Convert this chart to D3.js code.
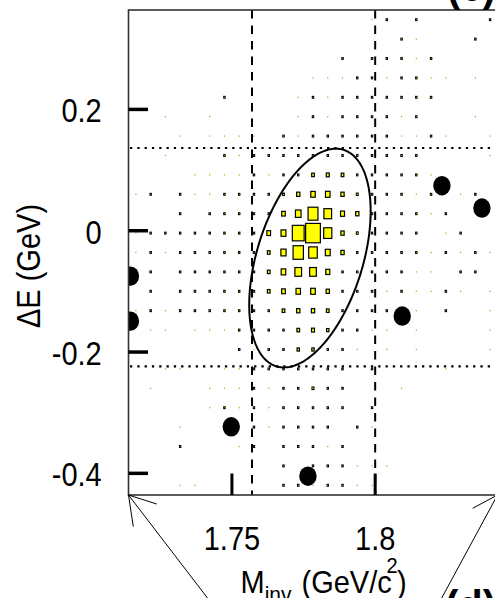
<!DOCTYPE html>
<html lang="en">
<head>
<meta charset="utf-8">
<title>Minv vs dE</title>
<script src="https://cdn.jsdelivr.net/npm/d3@7/dist/d3.min.js"></script>
<style>
    body { margin: 0; background: #fff; }
    svg text { font-family: "Liberation Sans", Arial, Helvetica, sans-serif; fill: #000; }
</style>
</head>
<body>
<div id="chart"></div>
<script>
// axes
var xDomain = [1.7139, 1.8427],     // Minv (GeV/c^2)
    yDomain = [-0.4357, 0.3639],    // dE (GeV)
    xTicks = [1.75, 1.8],
    yTicks = [0.2, 0, -0.2, -0.4],
    xTickLabels = ["1.75", "1.8"],
    yTickLabels = ["0.2", "0", "-0.2", "-0.4"];

// signal region lines
var mCuts = [1.757, 1.800],
    eCuts = [0.1364, -0.2236];

// fitted ellipse: centre, half widths, phase between M and dE
var ellCentre = [1.77723, -0.04507],
    ellHalf = [0.02119, 0.1803],
    ellCorr = 0.428;

// data points (black dots)
var ptM = [1.82330, 1.83726, 1.71457, 1.71457, 1.80944, 1.74976, 1.77653],
    ptE = [0.0742, 0.0374, -0.0748, -0.1490, -0.1407, -0.3233, -0.4047];

// MC box histogram, 25 x 25 bins, first row = highest dE, relative content
var nx = 25, ny = 25;
var boxes = [
    [0,0,0,0,0,0,0,0,0,0,0,0,0,0,0,0,4,10,0,10,0,0,0,0,10],
    [0,0,0,0,0,0,0,0,0,0,0,0,0,0,0,0,0,0,10,4,0,0,0,10,0],
    [0,0,0,0,0,0,0,0,0,0,0,0,0,0,10,0,10,10,10,4,10,0,0,0,0],
    [0,0,0,0,0,0,0,0,0,0,0,0,4,4,4,10,10,4,10,10,4,4,0,4,0],
    [0,0,0,0,0,0,10,0,0,0,0,4,10,4,10,10,10,10,10,10,10,0,0,0,0],
    [0,0,4,0,0,4,0,0,0,0,0,4,10,4,10,10,10,10,4,10,0,0,0,4,0],
    [0,0,0,4,0,4,4,4,4,0,10,4,10,10,10,10,10,10,4,4,10,4,0,0,4],
    [0,0,4,0,0,0,10,4,10,10,10,10,10,10,10,10,10,10,10,10,0,0,0,0,4],
    [0,0,0,0,4,4,4,4,10,4,10,10,18,20,18,10,10,10,10,10,4,0,0,0,0],
    [4,10,0,10,4,4,10,10,10,10,13,22,30,31,22,13,10,10,10,4,10,0,4,10,0],
    [0,0,0,10,0,10,10,10,10,10,24,38,67,52,27,22,10,10,10,10,4,10,0,0,0],
    [4,10,10,10,10,10,10,10,10,25,33,80,100,55,22,13,10,10,10,10,0,4,10,0,0],
    [4,10,4,10,10,10,10,10,10,18,35,70,58,33,22,10,10,10,10,10,4,10,4,10,4],
    [0,10,0,10,10,10,10,10,10,18,31,45,45,27,10,10,10,10,10,4,4,0,10,10,0],
    [0,10,0,10,10,10,10,10,10,18,25,30,31,22,10,10,10,4,10,4,4,10,4,0,4],
    [4,10,4,10,10,10,10,10,10,10,18,22,22,18,10,10,10,10,0,4,0,10,0,0,4],
    [0,4,4,0,4,4,4,10,10,10,10,18,20,16,10,10,4,4,0,4,0,0,0,0,4],
    [0,0,0,0,0,0,0,10,4,10,10,16,16,10,10,4,0,4,0,4,0,0,0,0,4],
    [0,0,4,4,0,0,4,4,10,10,10,10,10,10,10,0,10,0,0,0,0,4,0,0,0],
    [0,4,0,0,0,4,4,4,10,4,10,10,14,10,10,0,0,0,4,0,0,0,0,0,0],
    [0,0,0,0,0,4,10,4,10,4,10,10,10,10,10,0,10,0,0,0,0,0,0,0,0],
    [0,0,0,4,0,0,0,0,10,4,10,10,10,10,0,10,4,0,0,0,0,0,0,0,0],
    [0,0,0,10,0,0,0,4,10,0,10,10,10,4,10,0,0,0,0,0,0,0,0,0,0],
    [0,0,0,0,0,0,0,0,0,0,10,0,10,10,10,4,4,4,0,0,0,0,0,0,0],
    [0,0,0,4,4,0,0,0,0,0,10,10,4,10,10,4,4,0,0,0,0,0,0,0,0]
];

var width = 495, height = 598,
    frame = {left: 128.5, right: 497.5, top: 10, bottom: 495},
    stretch = 1.13;   // text in the figure is a bit taller than wide

var x = d3.scaleLinear().domain(xDomain).range([frame.left, frame.right]),
    y = d3.scaleLinear().domain(yDomain).range([frame.bottom, frame.top]);

var svg = d3.select("#chart").append("svg")
    .attr("width", width)
    .attr("height", height);

svg.append("rect").attr("width", width).attr("height", height).attr("fill", "#fff");

svg.append("clipPath").attr("id", "clip")
  .append("rect")
    .attr("x", frame.left).attr("y", frame.top)
    .attr("width", frame.right - frame.left)
    .attr("height", frame.bottom - frame.top);

var plot = svg.append("g").attr("clip-path", "url(#clip)");

// box histogram
var bw = (xDomain[1] - xDomain[0]) / nx,
    bh = (yDomain[1] - yDomain[0]) / ny,
    pw = x(xDomain[0] + bw) - x(xDomain[0]),
    ph = y(yDomain[0]) - y(yDomain[0] + bh),
    vmax = d3.max(boxes, function(r) { return d3.max(r); });

var cells = [];
boxes.forEach(function(row, i) {
    row.forEach(function(v, j) {
        if (v > 0) cells.push({
            cx: x(xDomain[0] + (j + 0.5) * bw),
            cy: y(yDomain[1] - (i + 0.5) * bh),
            v: v
        });
    });
});

plot.append("g").selectAll("rect")
    .data(cells)
  .enter().append("rect")
    .attr("x", function(d) { return d.v < 6 ? d.cx - 0.6 : d.cx - d.v / vmax * pw / 2; })
    .attr("y", function(d) { return d.v < 6 ? d.cy - 0.6 : d.cy - d.v / vmax * ph / 2; })
    .attr("width", function(d) { return d.v < 6 ? 1.2 : d.v / vmax * pw; })
    .attr("height", function(d) { return d.v < 6 ? 1.2 : d.v / vmax * ph; })
    .attr("fill", function(d) { return d.v < 6 ? "#a8a800" : "#ffff00"; })
    .attr("stroke", function(d) { return d.v < 6 ? "none" : "#000"; })
    .attr("stroke-width", function(d) { return d.v < 15 ? 1 : 1.2; });

// signal region
plot.selectAll(".mcut")
    .data(mCuts)
  .enter().append("line")
    .attr("x1", x).attr("x2", x)
    .attr("y1", frame.top).attr("y2", frame.bottom)
    .attr("stroke", "#000").attr("stroke-width", 2)
    .attr("stroke-dasharray", "8.5,7");

plot.selectAll(".ecut")
    .data(eCuts)
  .enter().append("line")
    .attr("x1", frame.left + 1.5).attr("x2", frame.right)
    .attr("y1", y).attr("y2", y)
    .attr("stroke", "#000").attr("stroke-width", 2.2)
    .attr("stroke-dasharray", "2.3,5");

// ellipse
var ts = d3.range(0, 2 * Math.PI + 0.02, 0.02),
    dphi = Math.acos(ellCorr);
var ellLine = d3.line()
    .x(function(t) { return x(ellCentre[0] + ellHalf[0] * Math.cos(t)); })
    .y(function(t) { return y(ellCentre[1] + ellHalf[1] * Math.cos(t - dphi)); });

plot.append("path")
    .attr("d", ellLine(ts))
    .attr("fill", "none")
    .attr("stroke", "#000")
    .attr("stroke-width", 2);

// data points
plot.selectAll(".pt")
    .data(ptM)
  .enter().append("ellipse")
    .attr("cx", function(d) { return x(d); })
    .attr("cy", function(d, i) { return y(ptE[i]); })
    .attr("rx", 8.7).attr("ry", 9.7)
    .attr("fill", "#000");

// frame and ticks
svg.append("rect")
    .attr("x", frame.left).attr("y", frame.top)
    .attr("width", frame.right - frame.left)
    .attr("height", frame.bottom - frame.top)
    .attr("fill", "none").attr("stroke", "#333").attr("stroke-width", 1.6);

svg.selectAll(".ytick")
    .data(yTicks)
  .enter().append("line")
    .attr("x1", frame.left).attr("x2", frame.left + 19.5)
    .attr("y1", y).attr("y2", y)
    .attr("stroke", "#000").attr("stroke-width", 3.5);

svg.selectAll(".xtick")
    .data(xTicks)
  .enter().append("line")
    .attr("x1", x).attr("x2", x)
    .attr("y1", frame.bottom).attr("y2", frame.bottom - 21.5)
    .attr("stroke", "#000").attr("stroke-width", 3);

function label(tx, ty, str, size, anchor, rot) {
    return svg.append("text")
        .attr("transform", "translate(" + tx + "," + ty + ")" + (rot ? "rotate(" + rot + ")" : "") + "scale(1," + stretch + ")")
        .attr("text-anchor", anchor)
        .style("font-size", size + "px")
        .text(str);
}

yTicks.forEach(function(v, i) { label(101.7, y(v) + 13, yTickLabels[i], 29, "end"); });
xTicks.forEach(function(v, i) { label(x(v), 550, xTickLabels[i], 29, "middle"); });

label(40, 266, "\u0394E (GeV)", 29, "middle", -90);

// x title with sub and superscript
var xt = svg.append("text")
    .attr("transform", "translate(240.5,593)scale(1,1.06)")
    .style("font-size", "29px");
xt.append("tspan").text("M");
xt.append("tspan").attr("dy", 8.5).style("font-size", "21px").text("inv");
xt.append("tspan").attr("x", 61).attr("dy", -8.5).text("(GeV/c");
xt.append("tspan").attr("x", 146).attr("dy", -19).style("font-size", "20px").text("2");
xt.append("tspan").attr("x", 156.5).attr("dy", 19).text(")");

// panel labels of the neighbouring panels
label(447, 1, "(c)", 40, "start").style("font-weight", "bold");
label(445, 621, "(d)", 40, "start").style("font-weight", "bold");

// zoom arrows from the frame corners
var arrows = [
    {tip: [xDomain[0], yDomain[0]], shaft: [102, 133], arms: [[28.2, 9], [4.8, 31.7]]},
    {tip: [xDomain[1], yDomain[0]], shaft: [-72, 133], arms: [[-24.8, 13.3], [2.4, 28]]}
];
arrows.forEach(function(a) {
    var px = x(a.tip[0]), py = y(a.tip[1]);
    [a.shaft].concat(a.arms).forEach(function(v) {
        svg.append("line")
            .attr("x1", px).attr("y1", py)
            .attr("x2", px + v[0]).attr("y2", py + v[1])
            .attr("stroke", "#000").attr("stroke-width", 1);
    });
});
</script>
</body>
</html>
